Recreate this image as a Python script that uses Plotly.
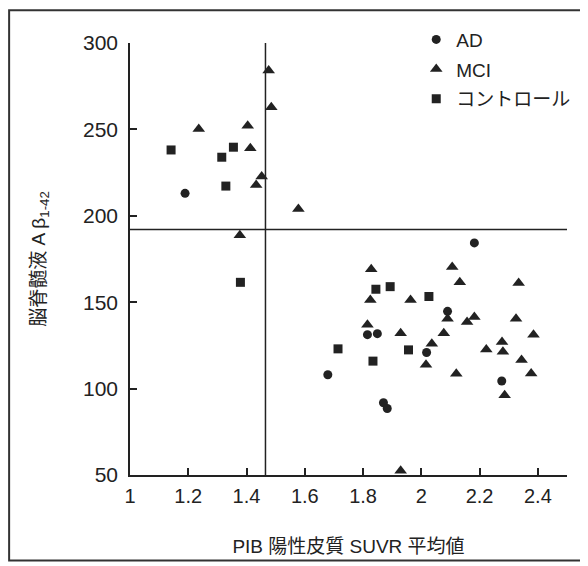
import plotly.graph_objects as go

# ---- data ----
ad_x = [1.189, 2.182, 2.090, 1.815, 1.849, 2.018, 1.679, 2.276, 1.870, 1.883]
ad_y = [213.0, 184.3, 144.7, 131.2, 131.8, 120.9, 108.0, 104.4, 91.8, 88.5]

mci_x = [1.476, 1.485, 1.236, 1.404, 1.413, 1.452, 1.433, 1.578, 1.377,
         1.828, 2.106, 2.132, 2.334, 1.825, 1.963, 2.090, 2.182, 2.157,
         2.325, 1.815, 1.929, 2.077, 2.385, 2.036, 2.223, 2.277, 2.280,
         2.344, 2.016, 2.120, 2.377, 2.286, 1.929]
mci_y = [284.1, 262.8, 250.2, 252.1, 239.1, 222.8, 217.8, 204.0, 188.7,
         169.1, 170.3, 161.5, 161.1, 151.3, 151.3, 140.4, 141.4, 138.5,
         140.4, 137.0, 132.0, 132.0, 131.2, 125.9, 122.6, 127.0, 121.3,
         116.5, 113.8, 108.6, 108.8, 96.1, 52.5]

ctrl_x = [1.141, 1.315, 1.355, 1.329, 1.379, 1.844, 1.893, 2.026, 1.714, 1.956, 1.834]
ctrl_y = [238.1, 233.9, 239.7, 217.2, 161.5, 157.5, 159.0, 153.3, 123.0, 122.4, 115.9]

cutoff_x = 1.465   # PIB SUVR cut-off
cutoff_y = 192     # CSF Abeta cut-off

x_ticks = [1, 1.2, 1.4, 1.6, 1.8, 2, 2.2, 2.4]
y_ticks = [50, 100, 150, 200, 250, 300]
x_range = [1, 2.5]
y_range = [50, 300]

series_names = ["AD", "MCI", "コントロール"]

FONT = "Liberation Sans, Arial, Noto Sans CJK JP, sans-serif"
INK = "#222222"

fig = go.Figure()
fig.add_trace(go.Scatter(x=ad_x, y=ad_y, mode="markers", name=series_names[0],
                         legendgroup="g1",
                         marker=dict(symbol="circle", size=9, color=INK)))
fig.add_trace(go.Scatter(x=mci_x, y=mci_y, mode="markers", name=series_names[1],
                         legendgroup="g2",
                         marker=dict(symbol="triangle-up", size=11, color=INK)))
fig.add_trace(go.Scatter(x=ctrl_x, y=ctrl_y, mode="markers", name=series_names[2],
                         legendgroup="g3",
                         marker=dict(symbol="square", size=9, color=INK)))

shapes = [
    # cut-off lines
    dict(type="line", xref="x", yref="y", x0=cutoff_x, x1=cutoff_x,
         y0=y_range[0], y1=y_range[1], line=dict(color=INK, width=1.5)),
    dict(type="line", xref="x", yref="y", x0=x_range[0], x1=x_range[1],
         y0=cutoff_y, y1=cutoff_y, line=dict(color=INK, width=1.5)),
    # outer frame of the scanned figure
    dict(type="rect", xref="paper", yref="paper", x0=-0.2766, x1=1.034,
         y0=-0.1977, y1=1.0759, line=dict(color="#333333", width=2),
         fillcolor="rgba(0,0,0,0)", layer="above"),
    # faint right edge of the scan
    dict(type="line", xref="paper", yref="paper", x0=1.034, x1=1.034,
         y0=-0.19, y1=1.07, line=dict(color="#d0d0d0", width=2.5), layer="above"),
]

fig.update_layout(
    width=580, height=558,
    margin=dict(l=122, r=17, t=35, b=88),
    paper_bgcolor="white", plot_bgcolor="white",
    font=dict(family=FONT, color=INK),
    shapes=shapes,
    showlegend=True,
    legend=dict(x=0.655, y=1.052, xanchor="left", yanchor="top",
                bgcolor="rgba(0,0,0,0)", font=dict(size=19, family=FONT, color=INK),
                itemwidth=30, tracegroupgap=2, traceorder="grouped"),
    xaxis=dict(range=x_range, tickvals=x_ticks, ticktext=[str(v) for v in x_ticks],
               showgrid=False, zeroline=False, showline=True, linecolor=INK, linewidth=1.5,
               ticks="inside", ticklen=7, tickwidth=1.5, tickcolor=INK,
               ticklabelstandoff=2,
               tickfont=dict(size=20, family=FONT, color=INK),
               title=dict(text="PIB 陽性皮質 SUVR 平均値",
                          font=dict(size=19, family=FONT, color=INK), standoff=34)),
    yaxis=dict(range=y_range, tickvals=y_ticks, ticktext=[str(v) for v in y_ticks],
               showgrid=False, zeroline=False, showline=True, linecolor=INK, linewidth=1.5,
               ticks="inside", ticklen=7, tickwidth=1.5, tickcolor=INK,
               ticklabelstandoff=6,
               tickfont=dict(size=21, family=FONT, color=INK),
               title=dict(text="脳脊髄液 A β<sub>1-42</sub>",
                          font=dict(size=19, family=FONT, color=INK), standoff=32)),
)

fig.write_html("out.html")
